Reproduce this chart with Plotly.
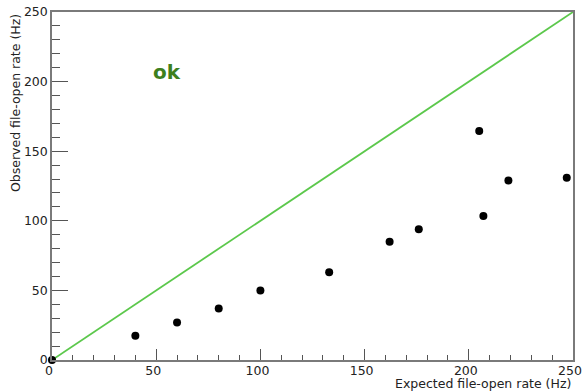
import plotly.graph_objects as go

# Data
expected = [0, 40, 60, 80, 100, 133, 162, 176, 205, 207, 219, 247]
observed = [0, 17.5, 27, 37, 50, 63, 85, 94, 164.5, 103.5, 129, 131]
ideal_x = [0, 250]
ideal_y = [0, 250]

x_title = "Expected file-open rate (Hz)"
y_title = "Observed file-open rate (Hz)"
status_text = "ok"

FONT = "DejaVu Sans, Liberation Sans, Arial"

fig = go.Figure()
fig.add_trace(go.Scatter(x=ideal_x, y=ideal_y, mode="lines",
                         line=dict(color="#5cc84c", width=1.8),
                         hoverinfo="skip", showlegend=False))
fig.add_trace(go.Scatter(x=expected, y=observed, mode="markers",
                         marker=dict(color="black", size=8),
                         cliponaxis=False, showlegend=False))

axis_common = dict(
    showgrid=False, zeroline=False, automargin=False,
    showline=True, linecolor="#7a7a7a", linewidth=1.5, mirror=True,
    ticks="inside", tickcolor="#555", tickwidth=1,
    tickfont=dict(family=FONT, size=12.5, color="#222"),
    ticklabeloverflow="allow",
    range=[0, 250], dtick=50, tick0=0,
)

fig.update_xaxes(**axis_common, ticklen=11, ticklabelshift=-3, ticklabelstandoff=-2,
                 minor=dict(ticks="inside", dtick=10, ticklen=5, tickcolor="#555"))
fig.update_yaxes(**axis_common, ticklen=16,
                 minor=dict(ticks="inside", dtick=10, ticklen=8, tickcolor="#555"))

fig.add_annotation(text=x_title, xref="paper", yref="paper", x=1.0, y=-0.041,
                   xanchor="right", yanchor="top", showarrow=False,
                   font=dict(family=FONT, size=12.5, color="#222"))
fig.add_annotation(text=y_title, xref="paper", yref="paper", x=-0.071, y=1.0,
                   xanchor="center", yanchor="top", textangle=-90, showarrow=False,
                   font=dict(family=FONT, size=12.5, color="#222"))
fig.add_annotation(text="<b>" + status_text + "</b>", x=55, y=207, xref="x", yref="y",
                   showarrow=False,
                   font=dict(family="DejaVu Sans", size=20, color="#3d7f1e"))

fig.update_layout(
    width=583, height=391,
    margin=dict(l=52, r=10, t=12, b=31),
    plot_bgcolor="white", paper_bgcolor="white",
)

# remove the default 8px page margin so the figure fills the window exactly
fig.write_html("out.html", config={"displayModeBar": False},
               post_script="document.body.style.margin='0px';")
